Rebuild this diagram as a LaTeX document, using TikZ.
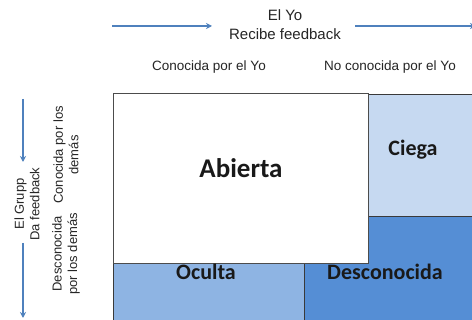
\documentclass[tikz,border=0pt]{standalone}
\usepackage{fontspec}
\setmainfont{Liberation Sans}
\newfontfamily\calibrifont{Carlito}
\usetikzlibrary{arrows.meta}
\definecolor{arrowblue}{HTML}{4F81BD}
\definecolor{ciegacol}{HTML}{C6D9F1}
\definecolor{ocultacol}{HTML}{8EB4E3}
\definecolor{descocol}{HTML}{558ED5}
\definecolor{gridcol}{HTML}{3A3A3A}
\tikzset{
  flowarrow/.style={draw=arrowblue, line width=1.4pt, -{Stealth[length=6pt,width=6pt]}},
  toptext/.style={font=\fontsize{13.5}{16}\selectfont, text=black!85, inner sep=0pt, anchor=base},
  sidetext/.style={font=\fontsize{13}{15.5}\selectfont, text=black!85, align=center, rotate=90, inner sep=0pt},
  celltext/.style={font=\calibrifont\bfseries\fontsize{22}{24}\selectfont, text=black!90, inner sep=0pt},
  cellline/.style={draw=gridcol, line width=0.8pt}
}
\begin{document}
\begin{tikzpicture}[x=1pt,y=-1pt]
\clip (0,0) rectangle (472,320);
\fill[white] (0,0) rectangle (472,320);

% grid cells
\fill[ciegacol] (304,94) rectangle (480,216);
\fill[ocultacol] (113,216) rectangle (304,330);
\fill[descocol] (304,216) rectangle (480,330);
\draw[cellline] (113,330) -- (113,94) -- (480,94);
\draw[cellline] (113,216) -- (480,216);
\draw[cellline] (304,94) -- (304,330);

% open area box
\draw[draw=black!70, line width=0.9pt, fill=white] (113,93) rectangle (368.5,263.5);

% cell labels
\node[celltext, font=\calibrifont\bfseries\fontsize{27}{29}\selectfont] (abierta) at (241,168) {Abierta};
\node[celltext] (ciega) at (413,150) {Ciega};
\node[celltext] (oculta) at (206,272) {Oculta};
\node[celltext] (desconocida) at (385,272) {Desconocida};

% top header
\node[toptext, font=\fontsize{15}{18}\selectfont] (elyo) at (285,21) {El Yo};
\node[toptext, font=\fontsize{15}{18}\selectfont] (recibe) at (285,39.3) {Recibe feedback};
\node[toptext] (conyo) at (209,71) {Conocida por el Yo};
\node[toptext] (noconyo) at (390,71) {No conocida por el Yo};

\coordinate (ta1) at (112,26);
\coordinate (tb1) at (212,26);
\coordinate (ta2) at (355,26);
\coordinate (tb2) at (476,26);
\draw[flowarrow] (ta1) -- (tb1);
\draw[flowarrow] (ta2) -- (tb2);

% left header
\node[sidetext] (grupo) at (27,204) {El Grupp\\Da feedback};
\node[sidetext] (condem) at (66,155) {Conocida por los\\demás};
\node[sidetext] (descdem) at (66,254) {Desconocida\\por los demás};

\coordinate (la1) at (23,99);
\coordinate (lb1) at (23,162);
\coordinate (la2) at (23,243);
\coordinate (lb2) at (23,318);
\draw[flowarrow] (la1) -- (lb1);
\draw[flowarrow] (la2) -- (lb2);
\end{tikzpicture}
\end{document}
